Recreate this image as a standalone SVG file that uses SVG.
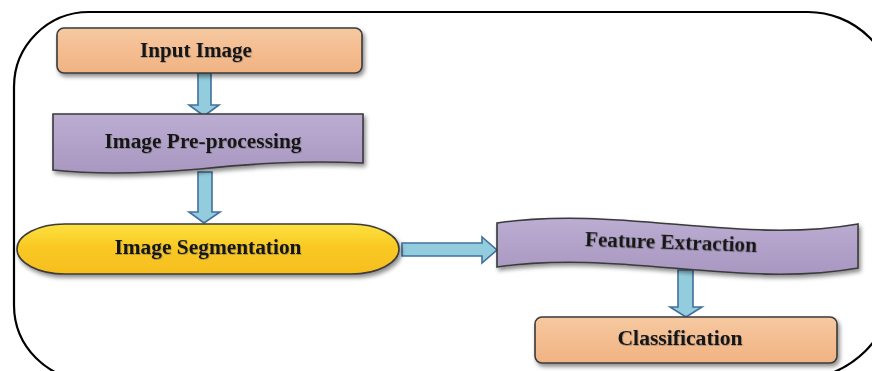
<svg xmlns="http://www.w3.org/2000/svg" width="872" height="371" viewBox="0 0 872 371">
<defs>
<linearGradient id="peach" x1="0" y1="0" x2="0" y2="1"><stop offset="0" stop-color="#F6C9A2"/><stop offset="0.5" stop-color="#F4BD90"/><stop offset="1" stop-color="#F0B383"/></linearGradient>
<linearGradient id="lav" x1="0" y1="0" x2="0" y2="1"><stop offset="0" stop-color="#BCADD2"/><stop offset="0.5" stop-color="#B2A2CA"/><stop offset="1" stop-color="#A897C0"/></linearGradient>
<linearGradient id="gold" x1="0" y1="0" x2="0" y2="1"><stop offset="0" stop-color="#FDE23F"/><stop offset="0.45" stop-color="#F9C924"/><stop offset="1" stop-color="#F6BE1E"/></linearGradient>
<filter id="sh" x="-10%" y="-20%" width="120%" height="150%"><feDropShadow dx="2" dy="3" stdDeviation="2" flood-color="#000" flood-opacity="0.45"/></filter>
<filter id="tsh" x="-5%" y="-20%" width="110%" height="150%"><feDropShadow dx="0.6" dy="0.8" stdDeviation="0.4" flood-color="#555" flood-opacity="0.5"/></filter>
<style>
.node{stroke:#3a3a3a;stroke-width:1.6;filter:url(#sh)}
.lbl{font-family:"Liberation Serif","Times New Roman",serif;font-weight:bold;font-size:20px;fill:#151515;text-anchor:middle;filter:url(#tsh)}
.arr{fill:#93CDDD;stroke:#41719C;stroke-width:1.6;stroke-linejoin:miter}
.frame{fill:none;stroke:#000;stroke-width:2.2}
</style>
</defs>
<path class="frame" d="M14,87 A75,75 0 0 1 89,12 L808,12 A87,87 0 0 1 895,99 L895,280 A100,100 0 0 1 795,380 L89,380 A75,75 0 0 1 14,305 Z"/>
<g id="connectors">
<path class="arr" d="M198,73 L211,73 L211,105 L219,105 L204,116 L189,105 L198,105 Z"/>
<path class="arr" d="M198,172 L212,172 L212,212 L220,212 L204,223 L189,212 L198,212 Z"/>
<path class="arr" d="M402,243 L482,243 L482,237 L497,250 L482,263 L482,256 L402,256 Z"/>
<path class="arr" d="M678,270 L693,270 L693,307 L702,307 L686,317 L670,307 L678,307 Z"/>
</g>
<g id="input-image">
<rect class="node" x="57" y="28" width="305" height="45" rx="7" fill="url(#peach)"/>
<text class="lbl" x="196" y="57" textLength="112" lengthAdjust="spacingAndGlyphs">Input Image</text>
</g>
<g id="pre-processing">
<path class="node" d="M53,114 L363,114 L363,163 C300,160 250,164 200,169 C140,174 90,174 53,170 Z" fill="url(#lav)"/>
<text class="lbl" x="203" y="148" textLength="197" lengthAdjust="spacingAndGlyphs">Image Pre-processing</text>
</g>
<g id="segmentation">
<rect class="node" x="17" y="224" width="382" height="50" rx="48" ry="25" fill="url(#gold)"/>
<text class="lbl" x="208" y="254" textLength="187" lengthAdjust="spacingAndGlyphs">Image Segmentation</text>
</g>
<g id="feature-extraction">
<path class="node" d="M497,223 C620,205 740,245 858,224 L858,268 C740,289 620,249 497,267 Z" fill="url(#lav)"/>
<text class="lbl" x="671" y="249" textLength="172" lengthAdjust="spacingAndGlyphs" transform="rotate(2 671 243)">Feature Extraction</text>
</g>
<g id="classification">
<rect class="node" x="535" y="317" width="302" height="46" rx="7" fill="url(#peach)"/>
<text class="lbl" x="680" y="345" textLength="125" lengthAdjust="spacingAndGlyphs">Classification</text>
</g>
</svg>
